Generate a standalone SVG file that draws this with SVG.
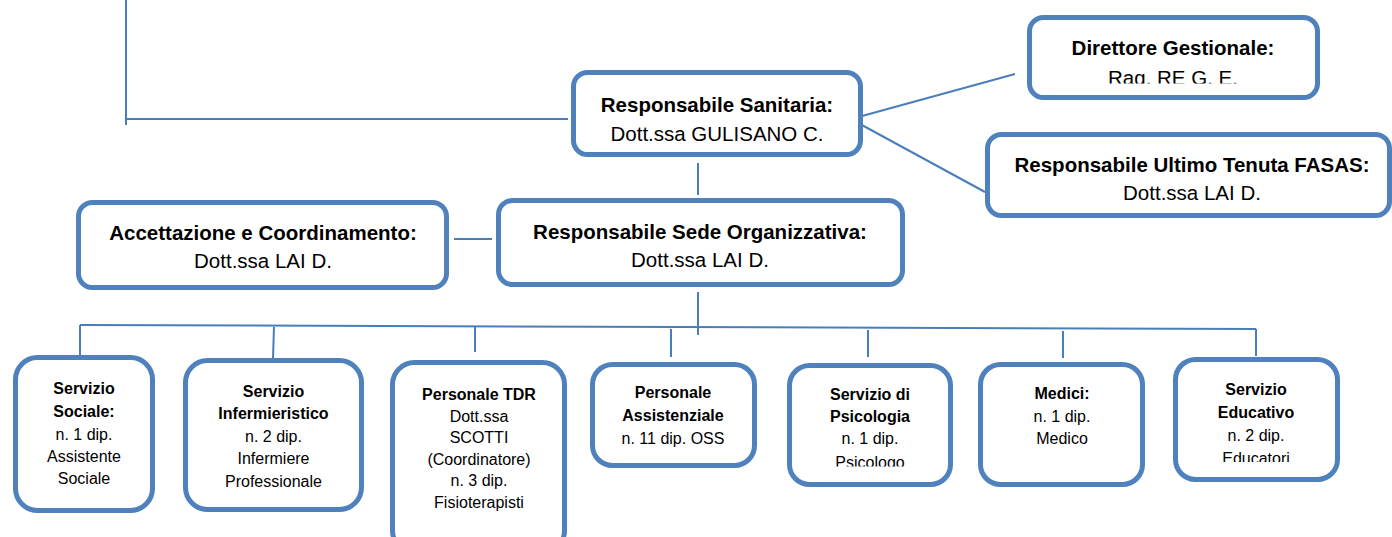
<svg xmlns="http://www.w3.org/2000/svg" width="1392" height="537" viewBox="0 0 1392 537">
<style>
.box{fill:#fff;stroke:#4f81bd;stroke-width:5}
.ln{stroke:#4a7ebb;stroke-width:2;fill:none}
text{font-family:"Liberation Sans",Arial,sans-serif;fill:#000;text-anchor:middle}
.t{font-size:20.5px}
.s{font-size:16px}
.b{font-weight:bold}
</style>
<defs>
<clipPath id="cRag"><rect x="1030" y="0" width="290" height="83.5"/></clipPath>
<clipPath id="cPsi"><rect x="790" y="300" width="160" height="166.5"/></clipPath>
<clipPath id="cEdu"><rect x="1176" y="300" width="160" height="162"/></clipPath>
</defs>
<rect width="1392" height="537" fill="#fff"/>
<g id="connectors">
<line class="ln" x1="126" y1="0" x2="126" y2="125"/>
<line class="ln" x1="125" y1="119" x2="568" y2="119"/>
<line class="ln" x1="862" y1="116" x2="1015" y2="74"/>
<line class="ln" x1="860" y1="124" x2="985" y2="192"/>
<line class="ln" x1="698" y1="163" x2="698" y2="195"/>
<line class="ln" x1="454" y1="239" x2="492" y2="239"/>
<line class="ln" x1="698" y1="292" x2="698" y2="335"/>
<line class="ln" x1="80" y1="325" x2="1256" y2="329"/>
<line class="ln" x1="80" y1="325" x2="80" y2="355"/>
<line class="ln" x1="274" y1="327" x2="273" y2="358"/>
<line class="ln" x1="475" y1="327" x2="475" y2="352"/>
<line class="ln" x1="671" y1="329" x2="671" y2="357"/>
<line class="ln" x1="868" y1="330" x2="868" y2="357"/>
<line class="ln" x1="1063" y1="331" x2="1063" y2="358"/>
<line class="ln" x1="1256" y1="329" x2="1256" y2="356"/>
</g>
<g id="sanitaria">
<rect class="box" x="573.5" y="72.5" width="287" height="82" rx="14"/>
<text class="t b" x="717" y="112">Responsabile Sanitaria:</text>
<text class="t" x="717" y="141">Dott.ssa GULISANO C.</text>
</g>
<g id="direttore">
<rect class="box" x="1029.5" y="17.5" width="288" height="80" rx="14"/>
<text class="t b" x="1173" y="55">Direttore Gestionale:</text>
<text class="t" x="1173" y="84.5" clip-path="url(#cRag)">Rag. RE G. E.</text>
</g>
<g id="fasas">
<rect class="box" x="987.5" y="134.5" width="402" height="81" rx="14"/>
<text class="t b" x="1192" y="172">Responsabile Ultimo Tenuta FASAS:</text>
<text class="t" x="1192" y="200">Dott.ssa LAI D.</text>
</g>
<g id="sede">
<rect class="box" x="498.5" y="200.5" width="404" height="84" rx="14"/>
<text class="t b" x="700" y="239">Responsabile Sede Organizzativa:</text>
<text class="t" x="700" y="267">Dott.ssa LAI D.</text>
</g>
<g id="accettazione">
<rect class="box" x="78.5" y="202.5" width="368" height="85" rx="14"/>
<text class="t b" x="263" y="240">Accettazione e Coordinamento:</text>
<text class="t" x="263" y="268">Dott.ssa LAI D.</text>
</g>
<g id="sociale">
<rect class="box" x="15.5" y="357.5" width="137" height="153" rx="22"/>
<text class="s b" x="84" y="394">Servizio</text>
<text class="s b" x="84" y="417">Sociale:</text>
<text class="s" x="84" y="440">n. 1 dip.</text>
<text class="s" x="84" y="462">Assistente</text>
<text class="s" x="84" y="484">Sociale</text>
</g>
<g id="infermieristico">
<rect class="box" x="185.5" y="360.5" width="176" height="149" rx="22"/>
<text class="s b" x="273.5" y="397">Servizio</text>
<text class="s b" x="273.5" y="419">Infermieristico</text>
<text class="s" x="273.5" y="442">n. 2 dip.</text>
<text class="s" x="273.5" y="464">Infermiere</text>
<text class="s" x="273.5" y="487">Professionale</text>
</g>
<g id="tdr">
<rect class="box" x="392.5" y="362.5" width="172" height="190" rx="22"/>
<text class="s b" x="479" y="400">Personale TDR</text>
<text class="s" x="479" y="421.5">Dott.ssa</text>
<text class="s" x="479" y="443">SCOTTI</text>
<text class="s" x="479" y="464.5">(Coordinatore)</text>
<text class="s" x="479" y="486">n. 3 dip.</text>
<text class="s" x="479" y="507.5">Fisioterapisti</text>
</g>
<g id="assistenziale">
<rect class="box" x="592.5" y="364.5" width="162" height="101" rx="20"/>
<text class="s b" x="673" y="398">Personale</text>
<text class="s b" x="673" y="421">Assistenziale</text>
<text class="s" x="673" y="444">n. 11 dip. OSS</text>
</g>
<g id="psicologia">
<rect class="box" x="789.5" y="365.5" width="161" height="119" rx="20"/>
<text class="s b" x="870" y="400">Servizio di</text>
<text class="s b" x="870" y="422">Psicologia</text>
<text class="s" x="870" y="444">n. 1 dip.</text>
<text class="s" x="870" y="467.5" clip-path="url(#cPsi)">Psicologo</text>
</g>
<g id="medici">
<rect class="box" x="980.5" y="364.5" width="162" height="120" rx="20"/>
<text class="s b" x="1062" y="399">Medici:</text>
<text class="s" x="1062" y="422">n. 1 dip.</text>
<text class="s" x="1062" y="444">Medico</text>
</g>
<g id="educativo">
<rect class="box" x="1175.5" y="359.5" width="162" height="120" rx="20"/>
<text class="s b" x="1256" y="395">Servizio</text>
<text class="s b" x="1256" y="418">Educativo</text>
<text class="s" x="1256" y="441">n. 2 dip.</text>
<text class="s" x="1256" y="463.5" clip-path="url(#cEdu)">Educatori</text>
</g>
</svg>
